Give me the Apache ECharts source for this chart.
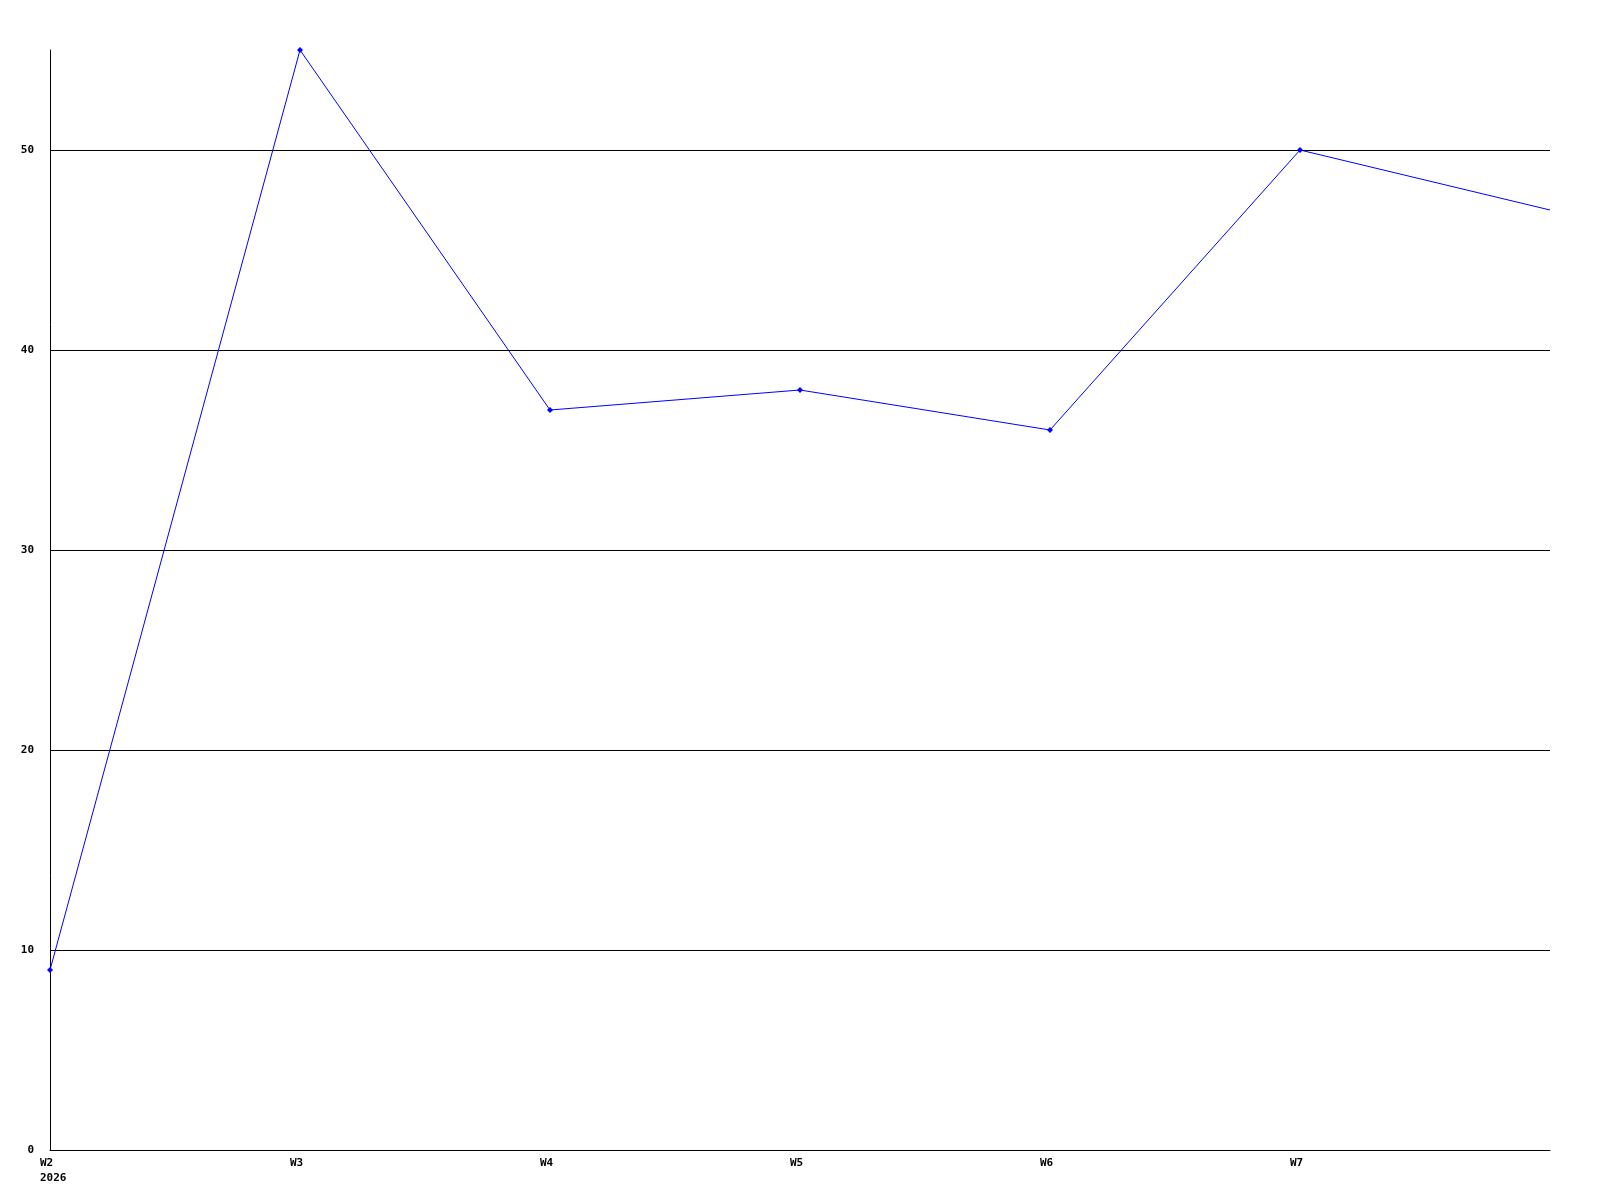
<!DOCTYPE html>
<html><head><meta charset="utf-8">
<script src="https://cdn.jsdelivr.net/npm/echarts@6/dist/echarts.min.js"></script>
<style>html,body{margin:0;padding:0;background:#fff}#c{width:1600px;height:1200px}</style>
</head><body><div id="c"></div>
<script>
const categories = ['W2','W3','W4','W5','W6','W7','W8'];
const xLabels = ['W2\n2026','W3','W4','W5','W6','W7',''];
const values = [9,55,37,38,36,50,47];
const yTicks = [0,10,20,30,40,50];

const chart = echarts.init(document.getElementById('c'));
const font = {fontFamily:'DejaVu Sans Mono', fontWeight:'bold', fontSize:11, color:'#000'};
chart.setOption({
  animation:false,
  backgroundColor:'#fff',
  grid:{left:50,right:50,top:50,bottom:50},
  xAxis:{
    type:'category', data:categories, boundaryGap:false,
    axisLine:{show:true,lineStyle:{color:'#000',width:1}},
    axisTick:{show:false},
    splitLine:{show:false},
    axisLabel:Object.assign({}, font, {
      interval:0, margin:6, align:'left', lineHeight:15,
      padding:[0,0,0,-10],
      formatter:(v,i)=>xLabels[i]
    })
  },
  yAxis:{
    type:'value', min:0, max:55, interval:10,
    axisLine:{show:true,lineStyle:{color:'#000',width:1}},
    axisTick:{show:false},
    splitLine:{show:true,showMaxLine:false,lineStyle:{color:'#000',width:1}},
    axisLabel:Object.assign({}, font, {margin:16, showMaxLabel:false,
      formatter:v=>yTicks.includes(v)?String(v):''})
  },
  series:[{
    type:'line',
    data:values.map((v,i)=>i===values.length-1?{value:v,symbol:'none'}:v),
    symbol:'diamond', symbolSize:6,
    itemStyle:{color:'#0000ff'},
    lineStyle:{color:'#0000ff',width:1},
    clip:false
  }]
});
</script></body></html>
